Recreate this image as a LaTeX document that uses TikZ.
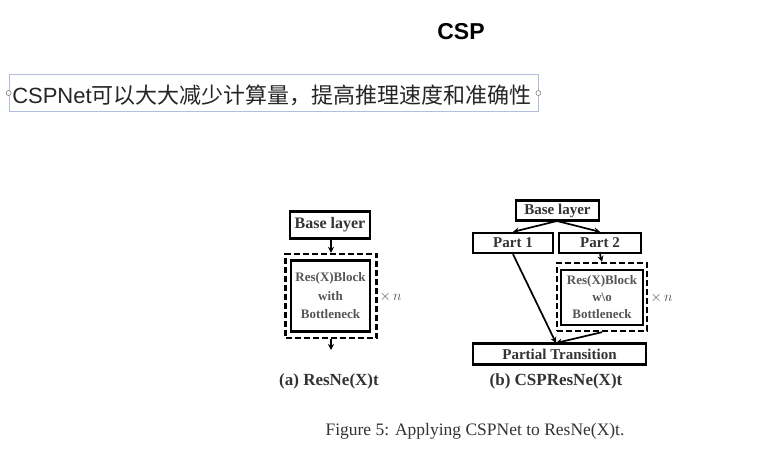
\documentclass[tikz,border=0pt]{standalone}
\usepackage{fontspec}
\setmainfont{Liberation Serif}
\newfontfamily\cjkfont{Noto Sans CJK SC}
\newfontfamily\hvfont{Liberation Sans}
\usetikzlibrary{arrows.meta}
\definecolor{txtgray}{HTML}{333333}
\definecolor{blockgray}{HTML}{555555}
\definecolor{selblue}{HTML}{B4BCDF}
\tikzset{
  boxnode/.style={draw=black, line width=2.3pt, inner sep=0pt, font=\bfseries, text=txtgray},
  dashbox/.style={draw=black, line width=2.3pt, dash pattern=on 6pt off 3pt},
  blocktext/.style={font=\bfseries\fontsize{13}{18.5}\selectfont, text=blockgray, align=center},
  arr/.style={-{Stealth[length=6pt,width=6pt]}, line width=1.7pt},
  timesn/.style={font=\fontsize{14}{16}\selectfont, text=blockgray},
  subcap/.style={font=\bfseries\fontsize{17}{20}\selectfont, text=txtgray},
}
\begin{document}
\begin{tikzpicture}[x=1pt,y=-1pt]
\useasboundingbox[fill=white] (0,0) rectangle (773,453);
% title
\node[font=\hvfont\bfseries\fontsize{23}{26}\selectfont, text=black] (title) at (461,32) {CSP};
% selected text box
\node[draw=selblue, line width=0.8pt, minimum width=529pt, minimum height=37pt, inner sep=0pt] (sel) at (273.5,93) {};
\node[font=\cjkfont\fontsize{22}{24}\selectfont, text=black!85] (cjk) at (272,95) {{\hvfont CSPNet}可以大大减少计算量，提高推理速度和准确性};
\node[draw=gray, fill=white, circle, minimum size=5pt, inner sep=0pt, line width=0.6pt] (hl) at (sel.west) {};
\node[draw=gray, fill=white, circle, minimum size=5pt, inner sep=0pt, line width=0.6pt] (hr) at (sel.east) {};

% (a)
\node[boxnode, minimum width=80pt, minimum height=27pt, font=\bfseries\fontsize{16}{18}\selectfont] (basea) at (330,225) {Base layer};
\node[dashbox, minimum width=91pt, minimum height=84pt, inner sep=0pt] (dasha) at (331,296) {};
\node[boxnode, minimum width=79pt, minimum height=71pt] (blocka) at (330.5,296) {};
\node[blocktext] (blockatext) at (blocka.center) {Res(X)Block\\with\\Bottleneck};
\draw[arr] (basea.south -| dasha.north) -- (dasha.north);
\coordinate (outa) at (331,350);
\draw[arr] (dasha.south) -- (outa);
\node[timesn, anchor=west] (xna) at (376,297) {$\times\,n$};
\node[subcap] (capa) at (329,381) {(a) ResNe(X)t};

% (b)
\node[boxnode, minimum width=83pt, minimum height=20pt, font=\bfseries\fontsize{15}{17}\selectfont] (baseb) at (557.5,210.5) {Base layer};
\node[boxnode, minimum width=80pt, minimum height=20pt, font=\bfseries\fontsize{15}{17}\selectfont] (part1) at (513,243) {Part 1};
\node[boxnode, minimum width=82pt, minimum height=20pt, font=\bfseries\fontsize{15}{17}\selectfont] (part2) at (600,243) {Part 2};
\node[dashbox, minimum width=90pt, minimum height=68pt, inner sep=0pt] (dashb) at (602,297) {};
\node[boxnode, minimum width=82pt, minimum height=55pt] (blockb) at (602,297.5) {};
\node[blocktext, font=\bfseries\fontsize{13}{17}\selectfont] (blockbtext) at (blockb.center) {Res(X)Block\\w\textbackslash o\\Bottleneck};
\node[boxnode, minimum width=173pt, minimum height=21pt, font=\bfseries\fontsize{15}{17}\selectfont] (pt) at (559.5,354) {Partial Transition};
\coordinate (split) at (557,221);
\coordinate (join) at (556,343);
\draw[arr] (split) -- (part1.north);
\draw[arr] (split) -- (part2.north);
\draw[arr] (part2.south) -- (dashb.north);
\draw[arr] (part1.south) -- (join);
\draw[arr] (dashb.south) -- (join);
\node[timesn, anchor=west] (xnb) at (647,298) {$\times\,n$};
\node[subcap] (capb) at (556,381) {(b) CSPResNe(X)t};

% figure caption
\node[font=\fontsize{17.5}{20}\selectfont, text=txtgray] (figcap) at (475,431) {Figure 5: Applying CSPNet to ResNe(X)t.};
\end{tikzpicture}
\end{document}
